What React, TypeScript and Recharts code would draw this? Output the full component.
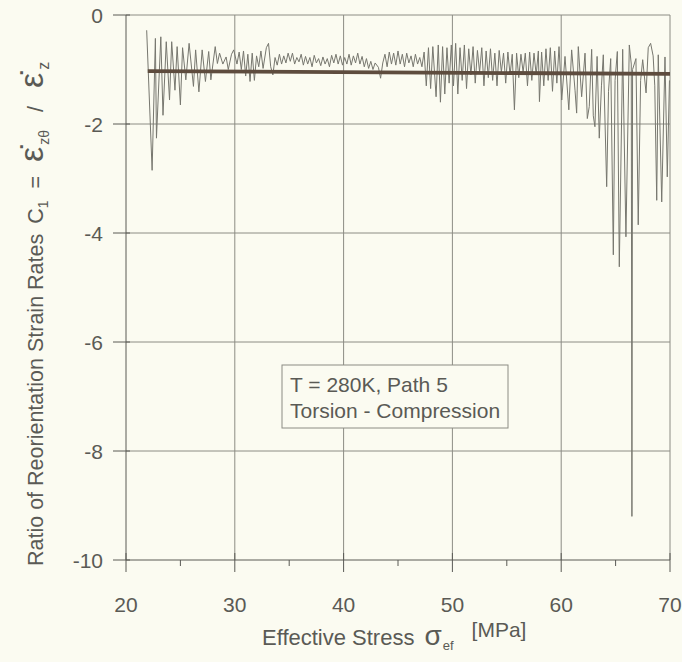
import { CartesianGrid, Line, LineChart, XAxis, YAxis } from "recharts";

const ratio20s: [number, number][] = [
  [21.9, -0.28], [22.4, -2.85], [22.7, -0.43], [22.8, -2.26], [23.2, -0.4],
  [23.4, -1.84], [23.7, -0.49], [24.0, -1.56], [24.2, -0.49], [24.5, -1.38],
  [24.7, -0.58], [25.0, -1.65], [25.2, -0.6], [25.5, -1.19], [25.8, -0.52],
  [26.2, -1.31], [26.4, -0.64], [26.7, -1.41], [27.0, -0.64], [27.3, -1.22],
  [27.6, -0.67], [27.8, -1.19], [28.2, -0.58], [28.4, -0.89], [28.6, -0.7],
  [28.9, -0.9], [29.2, -0.77], [29.4, -1.0], [29.7, -0.72], [29.9, -0.64],
];

const ratio30s: [number, number][] = [
  [30.2, -0.9], [30.4, -0.68], [30.6, -1.0], [30.8, -0.66], [31.0, -1.12],
  [31.2, -0.72], [31.4, -1.22], [31.6, -0.7], [31.8, -1.2], [32.0, -0.75],
  [32.2, -0.95], [32.4, -0.66], [32.6, -0.98], [32.9, -0.6], [33.1, -0.52],
  [33.3, -0.95], [33.5, -1.1], [33.7, -0.78], [33.9, -0.92], [34.1, -0.72],
  [34.3, -0.9], [34.5, -0.75], [34.7, -0.88], [34.9, -0.7], [35.1, -0.85],
  [35.3, -0.7], [35.5, -0.9], [35.7, -0.78], [35.9, -0.86], [36.1, -0.72],
  [36.3, -0.92], [36.5, -0.76], [36.7, -0.9], [36.9, -0.78], [37.1, -0.95],
  [37.3, -0.74], [37.5, -0.88], [37.7, -0.8], [37.9, -0.93], [38.1, -0.77],
  [38.3, -0.9], [38.5, -0.8], [38.7, -0.95], [38.9, -0.74], [39.1, -0.88],
  [39.3, -0.72], [39.5, -0.9], [39.7, -0.75], [39.9, -0.92],
];

const ratio40s: [number, number][] = [
  [40.1, -0.78], [40.3, -0.9], [40.5, -0.72], [40.7, -0.92], [40.9, -0.75],
  [41.1, -0.88], [41.3, -0.7], [41.5, -0.9], [41.7, -0.76], [41.9, -0.95],
  [42.1, -0.8], [42.3, -0.98], [42.5, -0.85], [42.7, -1.0], [42.9, -0.88],
  [43.2, -0.96], [43.4, -1.16], [43.6, -0.88], [43.8, -0.72], [44.0, -0.95],
  [44.2, -0.68], [44.4, -0.9], [44.6, -0.7], [44.8, -0.92], [45.0, -0.66],
  [45.2, -0.9], [45.4, -0.72], [45.6, -0.95], [45.8, -0.7], [46.0, -0.88],
  [46.2, -0.75], [46.4, -0.95], [46.6, -0.72], [46.8, -0.9], [47.0, -0.78],
  [47.2, -0.95], [47.4, -0.68], [47.6, -1.3], [47.8, -0.6], [48.0, -1.35],
  [48.2, -0.58], [48.5, -1.5], [48.7, -0.55], [48.9, -1.6], [49.1, -0.58],
  [49.3, -1.45], [49.5, -0.6], [49.7, -1.25], [49.9, -0.55],
];

const ratio50s: [number, number][] = [
  [50.1, -1.3], [50.3, -0.52], [50.5, -1.45], [50.7, -0.6], [50.9, -1.2],
  [51.1, -0.55], [51.3, -1.35], [51.5, -0.62], [51.7, -1.1], [51.9, -0.58],
  [52.1, -1.25], [52.3, -0.65], [52.5, -1.05], [52.7, -0.6], [52.9, -1.3],
  [53.1, -0.66], [53.3, -1.15], [53.5, -0.62], [53.7, -1.2], [53.9, -0.7],
  [54.1, -1.3], [54.3, -0.65], [54.5, -1.05], [54.7, -0.7], [54.9, -1.25],
  [55.1, -0.68], [55.3, -1.1], [55.5, -0.72], [55.7, -1.74], [55.9, -0.7],
  [56.1, -1.15], [56.3, -0.72], [56.5, -1.05], [56.7, -0.7], [56.9, -1.3],
  [57.1, -0.68], [57.3, -1.2], [57.5, -0.7], [57.7, -1.1], [57.9, -0.66],
  [58.0, -1.59], [58.2, -0.68], [58.4, -1.3], [58.6, -0.62], [58.8, -1.2],
  [59.0, -0.6], [59.2, -1.4], [59.4, -0.66], [59.6, -1.25], [59.8, -0.58],
];

const ratio60s: [number, number][] = [
  [60.05, -1.56], [60.35, -0.76], [60.7, -1.74], [60.96, -0.64], [61.27, -1.38],
  [61.42, -1.8], [61.57, -0.58], [61.88, -1.5], [62.19, -0.7], [62.4, -1.9],
  [62.58, -1.68], [62.8, -0.63], [62.95, -1.85], [63.1, -2.05], [63.3, -0.76],
  [63.5, -2.26], [63.7, -1.3], [63.87, -0.73], [64.18, -3.15], [64.35, -1.4],
  [64.55, -0.8], [64.79, -4.4], [64.95, -1.2], [65.16, -0.67], [65.34, -4.62],
  [65.65, -0.63], [65.95, -4.07], [66.26, -0.55], [66.44, -0.9], [66.5, -9.2],
  [66.56, -1.0], [66.87, -0.8], [67.08, -3.85], [67.3, -1.2], [67.49, -0.82],
  [67.8, -1.43], [68.0, -0.6], [68.22, -0.52], [68.45, -0.75], [68.6, -1.3],
  [68.78, -3.4], [68.92, -0.73], [69.24, -3.43], [69.54, -0.77], [69.75, -2.97],
  [69.95, -1.2],
];

// straight fit through the noise
const fitStress = [22, 70];
const fitRatio = [-1.03, -1.08];

const majorX = [20, 30, 40, 50, 60, 70];
const allX = [20, 25, 30, 35, 40, 45, 50, 55, 60, 65, 70];
const yTicks = [0, -2, -4, -6, -8, -10];

const BG = "#fbfbf1";
const INK = "#5a5a55";
const GRID = "#8c8c84";
const FONT = "'Liberation Sans', Arial, sans-serif";

const measured = [...ratio20s, ...ratio30s, ...ratio40s, ...ratio50s, ...ratio60s].map(
  ([x, y]) => ({ x, y })
);
const fit = fitStress.map((x, i) => ({ x, y: fitRatio[i] }));

function XTick(props: any) {
  const { x, y, payload } = props;
  const major = majorX.includes(payload.value);
  return (
    <g>
      <line x1={x} x2={x} y1={major ? y - 7 : y} y2={major ? y + 12 : y + 6} stroke={INK} />
      {major && (
        <text x={x} y={y + 52} textAnchor="middle" fill={INK} fontSize={21} fontFamily={FONT}>
          {payload.value}
        </text>
      )}
    </g>
  );
}

function YTick(props: any) {
  const { x, y, payload } = props;
  return (
    <g>
      <line x1={x - 13} x2={x + 4} y1={y} y2={y} stroke={INK} />
      <text x={x - 23} y={y + 8} textAnchor="end" fill={INK} fontSize={21} fontFamily={FONT}>
        {payload.value}
      </text>
    </g>
  );
}

export default function App() {
  return (
    <div style={{ position: "absolute", left: 0, top: 0, width: 682, height: 662, background: BG }}>
      <LineChart width={682} height={662} margin={{ top: 15, right: 12, bottom: 0, left: 0 }}>
        <CartesianGrid
          stroke={GRID}
          horizontalValues={[0, -2, -4, -6, -8]}
          verticalValues={[30, 40, 50, 60, 70]}
        />
        <XAxis
          type="number"
          dataKey="x"
          domain={[20, 70]}
          ticks={allX}
          interval={0}
          height={102}
          tickSize={0}
          tickMargin={0}
          axisLine={{ stroke: INK }}
          tick={<XTick />}
        />
        <YAxis
          type="number"
          dataKey="y"
          domain={[-10, 0]}
          ticks={yTicks}
          interval={0}
          width={126}
          tickSize={0}
          tickMargin={0}
          axisLine={{ stroke: INK }}
          tick={<YTick />}
        />
        <Line
          data={measured}
          dataKey="y"
          type="linear"
          stroke="#77776f"
          strokeWidth={1}
          dot={false}
          isAnimationActive={false}
        />
        <Line
          data={fit}
          dataKey="y"
          type="linear"
          stroke="#5e4c3e"
          strokeWidth={3.8}
          dot={false}
          isAnimationActive={false}
        />
      </LineChart>

      <svg
        width={682}
        height={662}
        style={{ position: "absolute", left: 0, top: 0, pointerEvents: "none" }}
        fontFamily={FONT}
        fill={INK}
      >
        <text transform="translate(43, 566) rotate(-90)" fontSize={21.5}>
          <tspan>Ratio of Reorientation Strain Rates</tspan>
          <tspan dx={10}>C</tspan>
          <tspan fontSize={14} dy={5}>1</tspan>
          <tspan dy={-5} dx={12}>=</tspan>
          <tspan fontSize={34} dx={14}>{"\u03b5\u0307"}</tspan>
          <tspan fontSize={14} dy={6} dx={2}>zθ</tspan>
          <tspan dy={-6} dx={18}>/</tspan>
          <tspan fontSize={34} dx={18}>{"\u03b5\u0307"}</tspan>
          <tspan fontSize={16} dy={6} dx={3}>z</tspan>
        </text>

        <text x={262} y={645} fontSize={22}>
          <tspan>Effective Stress</tspan>
          <tspan fontSize={28} dx={10}>σ</tspan>
          <tspan fontSize={13} dy={5} dx={1}>ef</tspan>
          <tspan fontSize={21} dy={-13} dx={18}>[MPa]</tspan>
        </text>

        <rect x={282} y={365} width={226} height={63} fill={BG} stroke={GRID} />
        <text x={290} y={392} fontSize={21}>T = 280K, Path 5</text>
        <text x={290} y={418} fontSize={21}>Torsion - Compression</text>
      </svg>
    </div>
  );
}
